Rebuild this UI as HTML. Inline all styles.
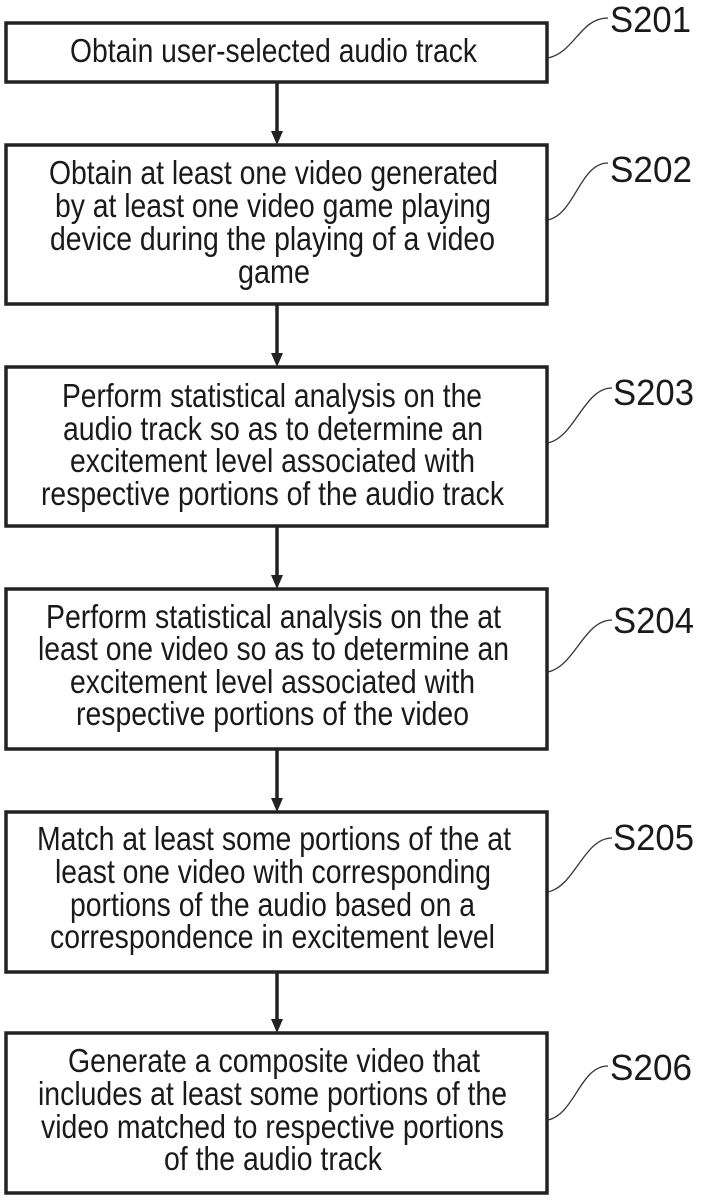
<!DOCTYPE html>
<html><head><meta charset="utf-8"><style>
html,body{margin:0;padding:0;background:#fff;}
svg{display:block}
text{font-family:"Liberation Sans",Arial,sans-serif;fill:#1a1a1a;}
</style></head><body>
<svg width="703" height="1200" viewBox="0 0 703 1200" xmlns="http://www.w3.org/2000/svg">
<g fill="none" stroke="#222" stroke-width="3.5">
<rect x="6" y="23" width="541" height="59"/>
<rect x="6" y="145" width="541" height="159"/>
<rect x="6" y="367" width="541" height="159"/>
<rect x="6" y="589" width="541" height="160"/>
<rect x="6" y="812" width="541" height="160"/>
<rect x="6" y="1033" width="541" height="160"/>
</g>
<g stroke="#222" stroke-width="3.5">
<line x1="277" y1="82" x2="277" y2="134"/>
<line x1="277" y1="304" x2="277" y2="356"/>
<line x1="277" y1="526" x2="277" y2="578"/>
<line x1="277" y1="749" x2="277" y2="801"/>
<line x1="277" y1="972" x2="277" y2="1022"/>
</g>
<g fill="#222">
<polygon points="271,131 283,131 277,145"/>
<polygon points="271,353 283,353 277,367"/>
<polygon points="271,575 283,575 277,589"/>
<polygon points="271,798 283,798 277,812"/>
<polygon points="271,1019 283,1019 277,1033"/>
</g>
<g fill="none" stroke="#333" stroke-width="1.3">
<path d="M548,58 C575,52 580,18 608,18"/>
<path d="M548,220 C575,214 580,163 608,163"/>
<path d="M548,443 C575,437 584,388 612,388"/>
<path d="M548,672 C575,666 584,620 612,620"/>
<path d="M548,892 C575,886 584,838 612,838"/>
<path d="M548,1120 C575,1114 580,1066 608,1066"/>
</g>
<g font-size="36">
<text x="610" y="32" textLength="81" lengthAdjust="spacingAndGlyphs">S201</text>
<text x="610" y="182" textLength="82" lengthAdjust="spacingAndGlyphs">S202</text>
<text x="613" y="405" textLength="81" lengthAdjust="spacingAndGlyphs">S203</text>
<text x="613" y="633" textLength="81" lengthAdjust="spacingAndGlyphs">S204</text>
<text x="613" y="850" textLength="81" lengthAdjust="spacingAndGlyphs">S205</text>
<text x="610" y="1080" textLength="82" lengthAdjust="spacingAndGlyphs">S206</text>
</g>
<g font-size="33">
<text x="70" y="62" textLength="407" lengthAdjust="spacingAndGlyphs">Obtain user-selected audio track</text>

<text x="49" y="184" textLength="449" lengthAdjust="spacingAndGlyphs">Obtain at least one video generated</text>
<text x="55" y="217" textLength="436" lengthAdjust="spacingAndGlyphs">by at least one video game playing</text>
<text x="50" y="250" textLength="445" lengthAdjust="spacingAndGlyphs">device during the playing of a video</text>
<text x="238" y="283" textLength="72" lengthAdjust="spacingAndGlyphs">game</text>

<text x="62" y="407" textLength="420" lengthAdjust="spacingAndGlyphs">Perform statistical analysis on the</text>
<text x="63" y="440" textLength="420" lengthAdjust="spacingAndGlyphs">audio track so as to determine an</text>
<text x="70" y="472" textLength="405" lengthAdjust="spacingAndGlyphs">excitement level associated with</text>
<text x="41" y="505" textLength="463" lengthAdjust="spacingAndGlyphs">respective portions of the audio track</text>

<text x="46" y="628" textLength="455" lengthAdjust="spacingAndGlyphs">Perform statistical analysis on the at</text>
<text x="38" y="660" textLength="471" lengthAdjust="spacingAndGlyphs">least one video so as to determine an</text>
<text x="70" y="693" textLength="405" lengthAdjust="spacingAndGlyphs">excitement level associated with</text>
<text x="76" y="725" textLength="393" lengthAdjust="spacingAndGlyphs">respective portions of the video</text>

<text x="37" y="850" textLength="474" lengthAdjust="spacingAndGlyphs">Match at least some portions of the at</text>
<text x="55" y="883" textLength="436" lengthAdjust="spacingAndGlyphs">least one video with corresponding</text>
<text x="70" y="916" textLength="405" lengthAdjust="spacingAndGlyphs">portions of the audio based on a</text>
<text x="50" y="948" textLength="445" lengthAdjust="spacingAndGlyphs">correspondence in excitement level</text>

<text x="68" y="1072" textLength="412" lengthAdjust="spacingAndGlyphs">Generate a composite video that</text>
<text x="38" y="1105" textLength="469" lengthAdjust="spacingAndGlyphs">includes at least some portions of the</text>
<text x="41" y="1138" textLength="463" lengthAdjust="spacingAndGlyphs">video matched to respective portions</text>
<text x="164" y="1170" textLength="218" lengthAdjust="spacingAndGlyphs">of the audio track</text>
</g>
</svg>
</body></html>
